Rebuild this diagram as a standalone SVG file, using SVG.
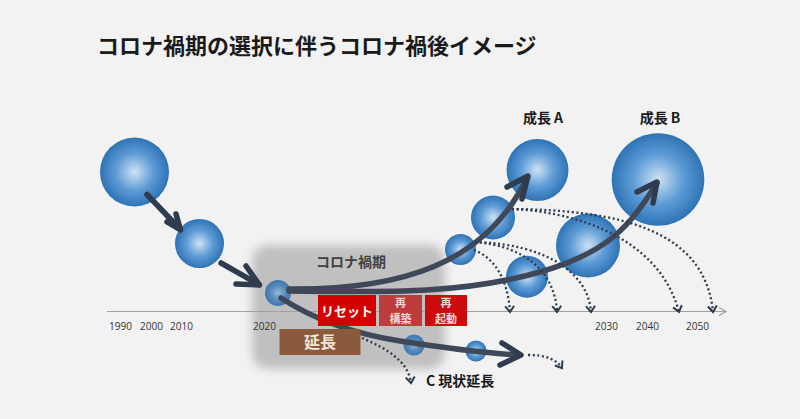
<svg xmlns="http://www.w3.org/2000/svg" width="800" height="419" viewBox="0 0 800 419">
<defs>
<radialGradient id="ball" cx="0.5" cy="0.5" r="0.5">
<stop offset="0" stop-color="#cfe2f4"/>
<stop offset="0.55" stop-color="#5d9bd6"/>
<stop offset="1" stop-color="#2e73b5"/>
</radialGradient>
<radialGradient id="ballMuted" cx="0.5" cy="0.5" r="0.5">
<stop offset="0" stop-color="#9ab8d4"/>
<stop offset="0.55" stop-color="#5a8cbd"/>
<stop offset="1" stop-color="#3f76ad"/>
</radialGradient>
<filter id="soft" x="-20%" y="-20%" width="140%" height="140%">
<feGaussianBlur stdDeviation="5"/>
</filter>
<marker id="dotHead" markerUnits="userSpaceOnUse" markerWidth="14" markerHeight="14" refX="0" refY="0" viewBox="-8 -7 10 14" orient="auto" overflow="visible">
<path d="M-6,-4.5 L0,0 L-6,4.5" fill="none" stroke="#2f3b4f" stroke-width="2" stroke-dasharray="none"/>
</marker>
<marker id="axisHead" markerUnits="userSpaceOnUse" markerWidth="14" markerHeight="14" viewBox="-8 -7 10 14" refX="0" refY="0" orient="auto" overflow="visible">
<path d="M-7,-4 L0,0 L-7,4" fill="none" stroke="#a0a0a0" stroke-width="1.2"/>
</marker>
</defs>
<style>
.bg{fill:#f2f2f2}
.ball{fill:url(#ball)}
.muted{fill:url(#ballMuted)}
.main{fill:none;stroke:#2f3b4f;stroke-width:5.5;stroke-linecap:round;stroke-linejoin:round}
.inbox{stroke:#3f4859}
.dot{fill:none;stroke:#2f3b4f;stroke-width:2.3;stroke-dasharray:2 2.6;marker-end:url(#dotHead)}
.year{font-family:"Open Sans","Liberation Sans",sans-serif;font-size:10px;fill:#333333}
.jp{font-family:"Noto Sans CJK JP","Noto Sans",sans-serif;font-weight:bold}
.sm{font-size:11px}
</style>
<rect class="bg" x="0" y="0" width="800" height="419"/>

<text class="jp" x="97" y="54" font-size="22" fill="#1a1a1a">コロナ禍期の選択に伴うコロナ禍後イメージ</text>

<g id="corona-period">
<rect x="252" y="245" width="193" height="124" rx="16" fill="#c0c0c0" filter="url(#soft)"/>
<text class="jp" x="351" y="267" font-size="14" fill="#404040" text-anchor="middle">コロナ禍期</text>
</g>

<g id="axis">
<line x1="107" y1="311.5" x2="726" y2="311.5" stroke="#a0a0a0" stroke-width="1.2" marker-end="url(#axisHead)"/>
<text class="year" x="109" y="330">1990</text>
<text class="year" x="140" y="330">2000</text>
<text class="year" x="170" y="330">2010</text>
<text class="year" x="253" y="330">2020</text>
<text class="year" x="595" y="330">2030</text>
<text class="year" x="636" y="330">2040</text>
<text class="year" x="686" y="330">2050</text>
</g>

<g id="n1990"><circle class="ball" cx="134.5" cy="172" r="34.5"/></g>
<g id="n2010"><circle class="ball" cx="199.5" cy="243.5" r="24.5"/></g>
<g id="n2020"><circle class="muted" cx="278" cy="293" r="13"/></g>
<g id="c1"><circle class="muted" cx="414" cy="345" r="10.5"/></g>
<g id="c2"><circle class="ball" cx="476" cy="351" r="10.5"/></g>
<g id="a1"><circle class="ball" cx="460.5" cy="249.5" r="15.5"/></g>
<g id="a2"><circle class="ball" cx="493" cy="217.5" r="22"/></g>
<g id="growthA"><circle class="ball" cx="537.5" cy="170" r="31"/>
<text class="jp" x="543" y="123" font-size="14" fill="#1a1a1a" text-anchor="middle">成長 A</text></g>
<g id="b1"><circle class="ball" cx="527" cy="276.7" r="21"/></g>
<g id="b2"><circle class="ball" cx="588" cy="245.5" r="32"/></g>
<g id="growthB"><circle class="ball" cx="658" cy="179.5" r="46.3"/>
<text class="jp" x="660" y="123" font-size="14" fill="#1a1a1a" text-anchor="middle">成長 B</text></g>

<g id="connectors">
<path class="main" d="M147,194.5 L180,229"/>
<polyline class="main" points="167,222 180.5,230 176,214"/>
<path class="main" d="M221,263 L259,284.5"/>
<polyline class="main" points="236,284 259.5,285 246,266"/>
<path class="main inbox" d="M289,291 C400,293 470,292 540,272 S630,225 657,183"/>
<polyline class="main" points="637,192 657,182 653,203"/>
<path class="main inbox" d="M289,289 C400,290 485,265 527,178"/>
<polyline class="main" points="507,187 528,176 522,199"/>
<path class="main inbox" d="M281,298 Q330,330 400,341 T519,355"/>
<polyline class="main" points="502,343 521,355 500,365"/>
<path class="dot" d="M362,338 C385,348 408,360 411,383"/>
<path class="dot" d="M528,355 C545,355 556,359 562,368"/>
<path class="dot" d="M474,250 C495,258 508,280 510,312"/>
<path class="dot" d="M475,242 C525,246 555,272 557,312"/>
<path class="dot" d="M475,242 C545,244 588,272 591,312"/>
<path class="dot" d="M512,209 C580,212 660,240 679,312"/>
<path class="dot" d="M512,209 C620,210 705,230 713,312"/>
</g>

<g id="reset">
<rect x="318" y="295" width="58" height="31" fill="#d40000"/>
<text class="jp" x="347" y="315.5" font-size="13" fill="#ffffff" text-anchor="middle">リセット</text>
</g>
<g id="rebuild">
<rect x="379" y="295" width="43" height="31" fill="#bd3c3c"/>
<text class="jp sm" x="400.5" y="307" fill="#f5d5d5" text-anchor="middle">再</text>
<text class="jp sm" x="400.5" y="322.5" fill="#f5d5d5" text-anchor="middle">構築</text>
</g>
<g id="restart">
<rect x="425" y="295" width="42" height="31" fill="#cc0c0c"/>
<text class="jp sm" x="446" y="307" fill="#f5d8d8" text-anchor="middle">再</text>
<text class="jp sm" x="446" y="322.5" fill="#f5d8d8" text-anchor="middle">起動</text>
</g>
<g id="extend">
<rect x="279.5" y="329" width="81" height="26" fill="#8b5a3c"/>
<text class="jp" x="320" y="348" font-size="16" fill="#f2e6da" text-anchor="middle">延長</text>
</g>
<g id="statusquo">
<text class="jp" x="426" y="386" font-size="14" fill="#1a1a1a">C 現状延長</text>
</g>
</svg>
